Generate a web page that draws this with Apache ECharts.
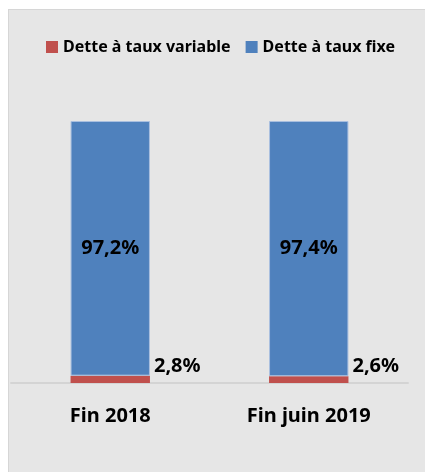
<!DOCTYPE html>
<html>
<head>
<meta charset="utf-8">
<script src="https://cdn.jsdelivr.net/npm/echarts@6/dist/echarts.min.js"></script>
<style>
  html, body { margin: 0; padding: 0; background: #fff; }
  #frame {
    position: absolute; left: 8px; top: 9px; width: 417px; height: 463px;
    box-sizing: border-box; border-left: 1px solid #d6d6d6; border-top: 1px solid #d6d6d6;
    background: #e6e6e6;
  }
  #main { width: 416px; height: 462px; }
</style>
</head>
<body>
<div id="frame"><div id="main"></div></div>
<script>
// données du graphique
var categories = ['Fin 2018', 'Fin juin 2019'];
var tauxVariable = [2.8, 2.6];
var tauxFixe = [97.2, 97.4];

var fontName = "'Noto Sans', sans-serif";

function pct(v) {
  return v.toFixed(1).replace('.', ',') + '%';
}

var chart = echarts.init(document.getElementById('main'), null, { renderer: 'canvas' });

var option = {
  animation: false,
  legend: {
    left: 32,
    top: 24,
    itemWidth: 12,
    itemHeight: 12,
    itemGap: 15,
    icon: 'rect',
    itemStyle: { borderWidth: 0 },
    textStyle: { fontFamily: fontName, fontWeight: 'bold', fontSize: 16, color: '#000' },
    data: ['Dette à taux variable', 'Dette à taux fixe']
  },
  grid: {
    left: 2,
    right: 17,
    top: 111,
    bottom: 89
  },
  xAxis: {
    type: 'category',
    data: categories,
    axisTick: { show: false },
    axisLine: { lineStyle: { color: '#d4d4d4', width: 2 } },
    axisLabel: {
      margin: 23,
      color: '#000',
      fontFamily: fontName,
      fontWeight: 'bold',
      fontSize: 20
    }
  },
  yAxis: {
    type: 'value',
    min: 0,
    max: 100,
    show: false,
    splitLine: { show: false }
  },
  series: [
    {
      name: 'Dette à taux variable',
      type: 'bar',
      stack: 'dette',
      barWidth: '40%',
      data: tauxVariable,
      itemStyle: { color: '#c0504d' },
      label: {
        show: true,
        position: 'right',
        distance: 4,
        offset: [0, -13],
        color: '#000',
        fontFamily: fontName,
        fontWeight: 'bold',
        fontSize: 20,
        formatter: function (p) { return pct(p.value); }
      }
    },
    {
      name: 'Dette à taux fixe',
      type: 'bar',
      stack: 'dette',
      barWidth: '40%',
      data: tauxFixe,
      itemStyle: { color: '#4f81bd', borderColor: '#a9bfdf', borderWidth: 1 },
      label: {
        show: true,
        position: 'inside',
        color: '#000',
        fontFamily: fontName,
        fontWeight: 'bold',
        fontSize: 20,
        formatter: function (p) { return pct(p.value); }
      }
    }
  ]
};

chart.setOption(option);
</script>
</body>
</html>
